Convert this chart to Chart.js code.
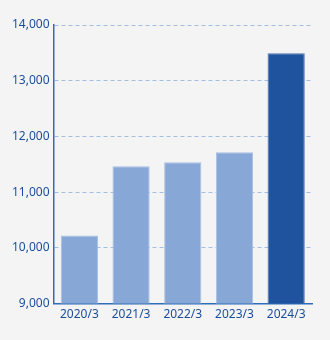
<!DOCTYPE html>
<html>
<head>
<meta charset="utf-8">
<script src="https://cdn.jsdelivr.net/npm/chart.js@4"></script>
<style>
  html, body { margin: 0; padding: 0; background: #f4f4f4; }
  #wrap { width: 330px; height: 340px; }
</style>
</head>
<body>
<div id="wrap"><canvas id="myChart"></canvas></div>
<script>
const labels = ['2020/3', '2021/3', '2022/3', '2023/3', '2024/3'];
const values = [10220, 11465, 11535, 11715, 13495];
const barColors = ['#87a8d6', '#87a8d6', '#87a8d6', '#87a8d6', '#1f539e'];
const edgeColors = ['#a9c0e2', '#a9c0e2', '#a9c0e2', '#a9c0e2', '#4a74b3'];

const ctx = document.getElementById('myChart');

new Chart(ctx, {
    type: 'bar',
    data: {
        labels: labels,
        datasets: [{
            data: values,
            backgroundColor: barColors,
            borderColor: edgeColors,
            borderWidth: 1,
            barPercentage: 0.72,
            categoryPercentage: 1
        }]
    },
    options: {
        responsive: true,
        maintainAspectRatio: false,
        animation: false,
        layout: {
            padding: { top: 25, right: 18, bottom: 14, left: 8 }
        },
        plugins: {
            legend: { display: false },
            tooltip: { enabled: false }
        },
        scales: {
            x: {
                grid: { display: false, drawTicks: false },
                border: { color: '#2f6db7', width: 1.5 },
                ticks: {
                    color: '#1a4e9c',
                    font: { family: 'Noto Sans', size: 12 },
                    padding: 4
                }
            },
            y: {
                min: 9000,
                max: 14000,
                grid: {
                    color: '#a3bee2',
                    drawTicks: false,
                    lineWidth: 1
                },
                border: { color: '#2f6db7', width: 1.5, dash: [4, 3] },
                ticks: {
                    stepSize: 1000,
                    color: '#1a4e9c',
                    font: { family: 'Noto Sans', size: 12 },
                    padding: 4,
                    callback: v => v.toLocaleString('en-US')
                }
            }
        }
    },
});
</script>
</body>
</html>
